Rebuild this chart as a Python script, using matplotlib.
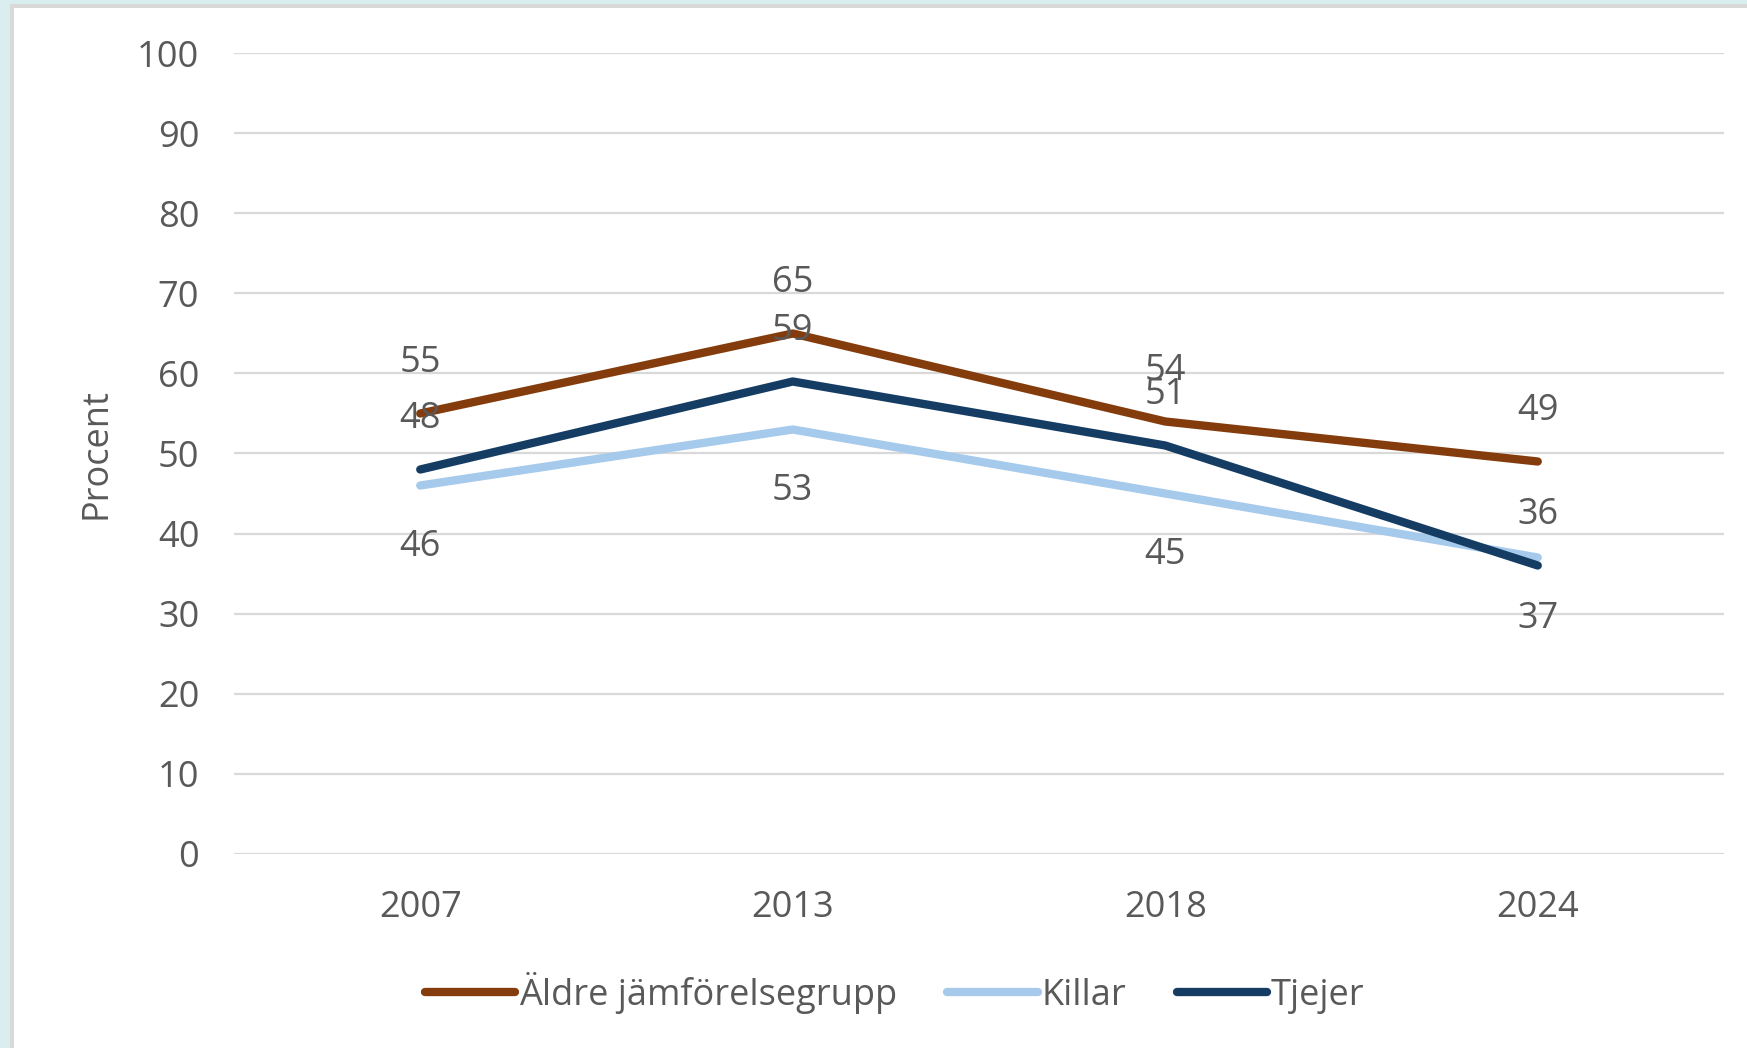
import matplotlib.pyplot as plt
from matplotlib.patches import Rectangle

plt.rcParams['font.family'] = ['Open Sans', 'DejaVu Sans']

years = ['2007', '2013', '2018', '2024']
aldre = [55, 65, 54, 49]
killar = [46, 53, 45, 37]
tjejer = [48, 59, 51, 36]

W, H = 1747, 1048
fig = plt.figure(figsize=(W / 100, H / 100), dpi=100)
fig.patch.set_facecolor('#daeef0')

# white chart area with grey frame
fig.patches.append(Rectangle((12 / W, -0.1), 1.2, 1.1 - 6 / H,
                             transform=fig.transFigure, facecolor='white',
                             edgecolor='#d9d9d9', linewidth=2.9, zorder=-10))

ax = fig.add_axes([234 / W, 1 - 853.5 / H, (1724 - 234) / W, 800 / H])
ax.set_facecolor('none')

txt = '#595959'
x = range(len(years))
series = [
    ('Äldre jämförelsegrupp', aldre, '#843c0c', 36),
    ('Killar', killar, '#a6caec', -44),
    ('Tjejer', tjejer, '#153d64', 36),
]
for name, vals, col, off in series:
    ax.plot(x, vals, color=col, lw=6, solid_capstyle='round',
            solid_joinstyle='round', label=name, zorder=3)
    for i, v in enumerate(vals):
        ax.annotate(str(v), (i, v), xytext=(0, off), textcoords='offset points',
                    ha='center', va='center', fontsize=26, color=txt, zorder=4)

ax.set_xlim(-0.5, 3.5)
ax.set_ylim(0, 100)
ax.set_yticks(range(0, 101, 10))
ax.set_xticks(list(x))
ax.set_xticklabels(years)
ax.grid(axis='y', color='#d9d9d9', lw=1.6, zorder=1)
ax.set_axisbelow(True)
for s in ax.spines.values():
    s.set_visible(False)
ax.tick_params(axis='both', length=0, labelsize=26, labelcolor=txt)
ax.tick_params(axis='y', pad=25)
ax.tick_params(axis='x', pad=26)
ax.set_ylabel('Procent', fontsize=26, color=txt, labelpad=16)

fig.legend(loc='center', bbox_to_anchor=(0.512, 1 - 993 / H), ncol=3,
           frameon=False, fontsize=26, labelcolor=txt, handlelength=2.5,
           handletextpad=0.1, columnspacing=1.4)

fig.savefig('out.png', dpi=100)
